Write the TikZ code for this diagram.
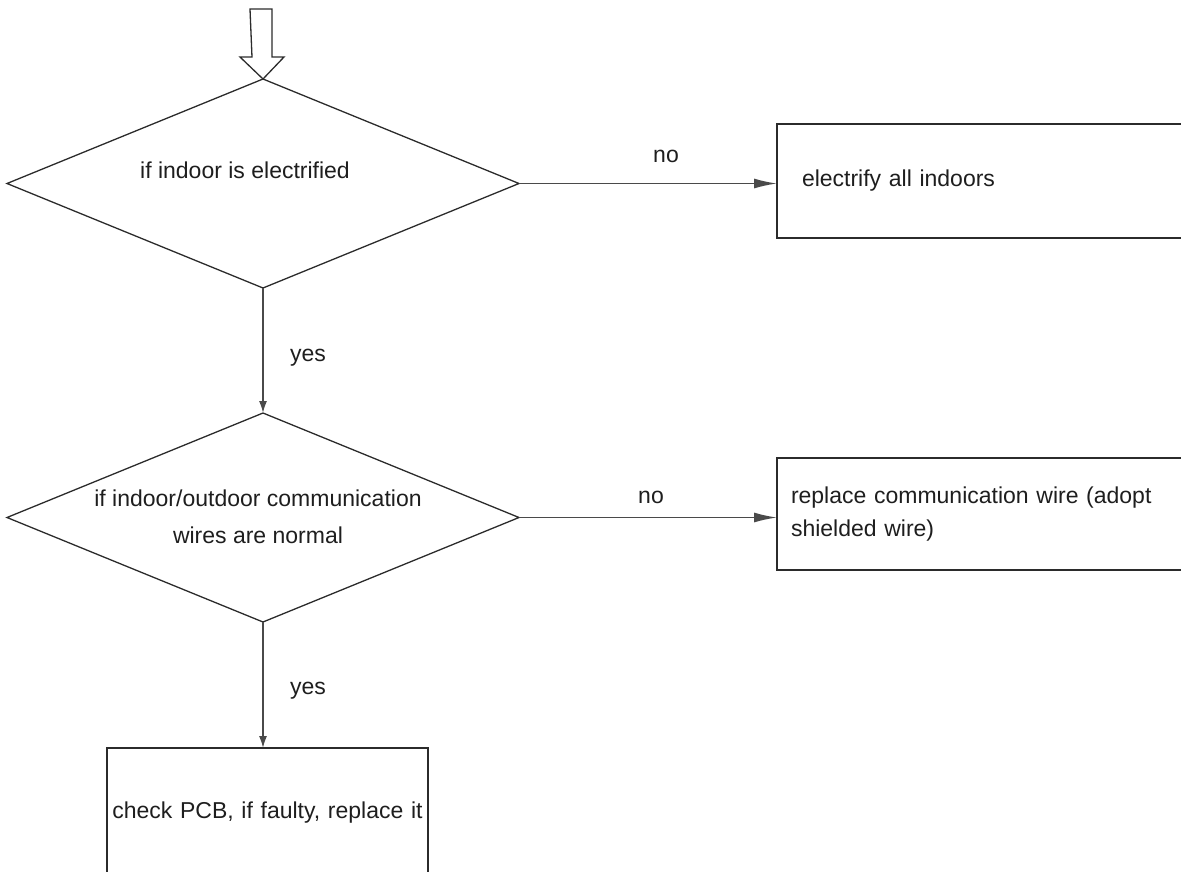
\documentclass[tikz,border=0pt]{standalone}
\usepackage{fontspec}
\setmainfont{Liberation Sans}
\usetikzlibrary{shapes.geometric,arrows.meta}
\definecolor{linec}{HTML}{2B2B2B}
\definecolor{shaftc}{HTML}{4A4A4A}
\definecolor{txtc}{HTML}{1E1E1E}
\tikzset{
  decision/.style={diamond,draw=linec,line width=1.3pt,inner sep=0pt,outer sep=0pt,
    minimum width=512pt,minimum height=209pt,aspect=2.45},
  procbox/.style={rectangle,draw=linec,line width=1.6pt,outer sep=0pt,text=txtc,
    font=\fontsize{23}{33}\selectfont},
  lbl/.style={text=txtc,inner sep=0pt,font=\fontsize{23}{37}\selectfont},
  harrow/.style={draw=shaftc,line width=1.6pt,-{Latex[length=23pt,width=10pt]}},
  varrow/.style={draw=shaftc,line width=1.6pt,-{Latex[length=12pt,width=8pt]}},
}
\begin{document}
\begin{tikzpicture}[x=1pt,y=-1pt]
\useasboundingbox (0,0) rectangle (1181,871);
\clip (0,0) rectangle (1181,871);
% decisions
\node[decision] (d1) at (263,183.5) {};
\node[decision] (d2) at (263,517.5) {};
\node[lbl,anchor=base] (t1) at (245,178) {if indoor is electrified};
\node[lbl,anchor=base,align=center] (t2) at (258,543) {if indoor/outdoor communication\\wires are normal};
% boxes
\node[procbox,anchor=north west,minimum width=460pt,minimum height=114pt,
  text width=420pt,inner xsep=25pt,align=left] (b1) at (777,124) {electrify all indoors};
\node[procbox,anchor=north west,minimum width=460pt,minimum height=112pt,
  text width=432pt,inner xsep=14pt,align=left] (b2) at (777,458) {replace communication wire (adopt\\shielded wire)};
\node[procbox,anchor=north west,minimum width=321pt,minimum height=130pt,
  text width=313pt,inner xsep=4pt,align=center] (b3) at (107,748) {check PCB, if faulty, replace it};
% entry arrow
\coordinate (e1) at (250,9);
\draw[linec,line width=1.3pt,line join=miter]
  (e1) -- ++(22,0) -- ++(0,48) -- ++(12,0) -- (d1.north) -- ++(-23,-22) -- ++(12,0) -- cycle;
% connectors
\draw[harrow] (d1.east) -- (d1.east -| b1.west);
\draw[harrow] (d2.east) -- (d2.east -| b2.west);
\draw[varrow] (d1.south) -- (d2.north);
\draw[varrow] (d2.south) -- (d2.south |- b3.north);
% labels
\node[lbl,anchor=base] (n1) at (666,162) {no};
\node[lbl,anchor=base] (n2) at (651,503) {no};
\node[lbl,anchor=base] (y1) at (308,361) {yes};
\node[lbl,anchor=base] (y2) at (308,694) {yes};
\end{tikzpicture}
\end{document}
